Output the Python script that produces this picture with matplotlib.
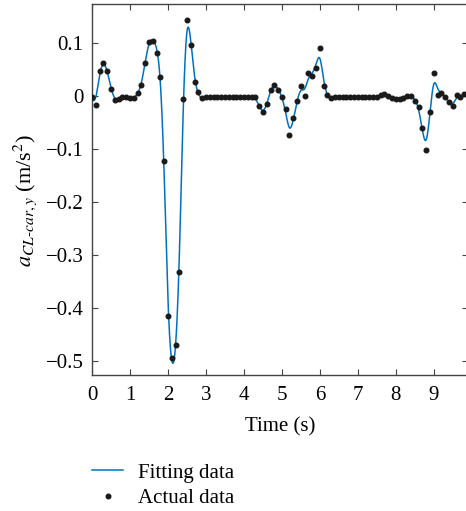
import numpy as np
import matplotlib
matplotlib.use('Agg')
import matplotlib.pyplot as plt
from matplotlib.lines import Line2D

plt.rcParams['font.family'] = ['Liberation Serif', 'DejaVu Serif']
plt.rcParams['mathtext.fontset'] = 'stix'
plt.rcParams['axes.unicode_minus'] = True

# sample times (s), 0.1 s apart
t = np.round(np.arange(0, 99) * 0.1, 1)

# measured lateral acceleration (m/s^2)
acc = [-0.002, -0.017, 0.047, 0.063, 0.047, 0.014, -0.007, -0.005, -0.002, -0.002,
       -0.003, -0.003, 0.006, 0.021, 0.063, 0.102, 0.103, 0.081, 0.036, -0.123,
       -0.415, -0.494, -0.470, -0.332, -0.006, 0.143, 0.096, 0.026, 0.007, -0.004,
       -0.002, -0.002, -0.002, -0.002, -0.002, -0.002, -0.002, -0.002, -0.002, -0.002,
       -0.002, -0.002, -0.002, -0.002,
       -0.018, -0.031, -0.016, 0.011, 0.021, 0.011, -0.002, -0.024, -0.073, -0.042,
       -0.009, 0.019, 0.000, 0.044, 0.038, 0.053, 0.091, 0.019, 0.001, -0.004,
       -0.002, -0.002, -0.002, -0.002, -0.002, -0.002, -0.002, -0.002, -0.002, -0.002,
       -0.002, -0.002,
       0.001, 0.003, 0.000, -0.003, -0.006, -0.005, -0.003, 0.000, 0.000, -0.009,
       -0.020, -0.060, -0.101, -0.031, 0.044, 0.001, 0.006, -0.001, -0.011, -0.019,
       0.001, -0.001, 0.003]
acc = np.array(acc)

# smooth fit: penalised least squares on a fine grid (like a smoothing spline)
h = 0.01
tf = np.round(np.arange(0, 991) * h, 2)
n = len(tf)
idx = np.round(t / h).astype(int)
W = np.zeros(n)
W[idx] = 1.0
wy = np.zeros(n)
wy[idx] = acc
D = np.diff(np.eye(n), 2, axis=0)
lam = 100.0
fit = np.linalg.solve(np.diag(W) + lam * D.T @ D, wy)

fig = plt.figure(figsize=(4.66, 5.11), dpi=100)
ax = fig.add_axes([92 / 466, 1 - 375 / 511, (468 - 92) / 466, (375 - 4) / 511])

ax.plot(tf, fit, color='#0072BD', lw=1.1, zorder=2)
ax.plot(t, acc, 'o', color='#1a1a1a', ms=3.3, zorder=3)

ax.set_xlim(0, 9.9)
ax.set_ylim(-0.5264, 0.1736)
ax.set_xticks(range(10))
ax.set_yticks([0.1, 0, -0.1, -0.2, -0.3, -0.4, -0.5])
ax.set_yticklabels(['0.1', '0', '\u22120.1', '\u22120.2', '\u22120.3', '\u22120.4', '\u22120.5'])
ax.tick_params(direction='in', top=True, right=True, length=4, width=0.8,
               labelsize=15, color='#444444', pad=6)
ax.tick_params(axis='x', pad=8)
for s in ax.spines.values():
    s.set_color('#444444')
    s.set_linewidth(1.0)

ax.set_xlabel('Time (s)', fontsize=15, labelpad=9)
ax.set_ylabel(r'$a_{\mathit{CL\text{-}car},y}$ (m/s$^2$)', fontsize=16)
ax.yaxis.set_label_coords(-0.141, 0.47)

handles = [Line2D([], [], color='#0072BD', lw=1.1),
           Line2D([], [], ls='', marker='o', color='#1a1a1a', ms=3.3)]
fig.legend(handles, ['Fitting data', 'Actual data'], loc='upper left',
           bbox_to_anchor=(92 / 466, 1 - 463 / 511), frameon=False, fontsize=15,
           handlelength=1.5, handletextpad=0.7, labelspacing=0.3, borderpad=0,
           borderaxespad=0)

fig.savefig('out.png', dpi=100)
